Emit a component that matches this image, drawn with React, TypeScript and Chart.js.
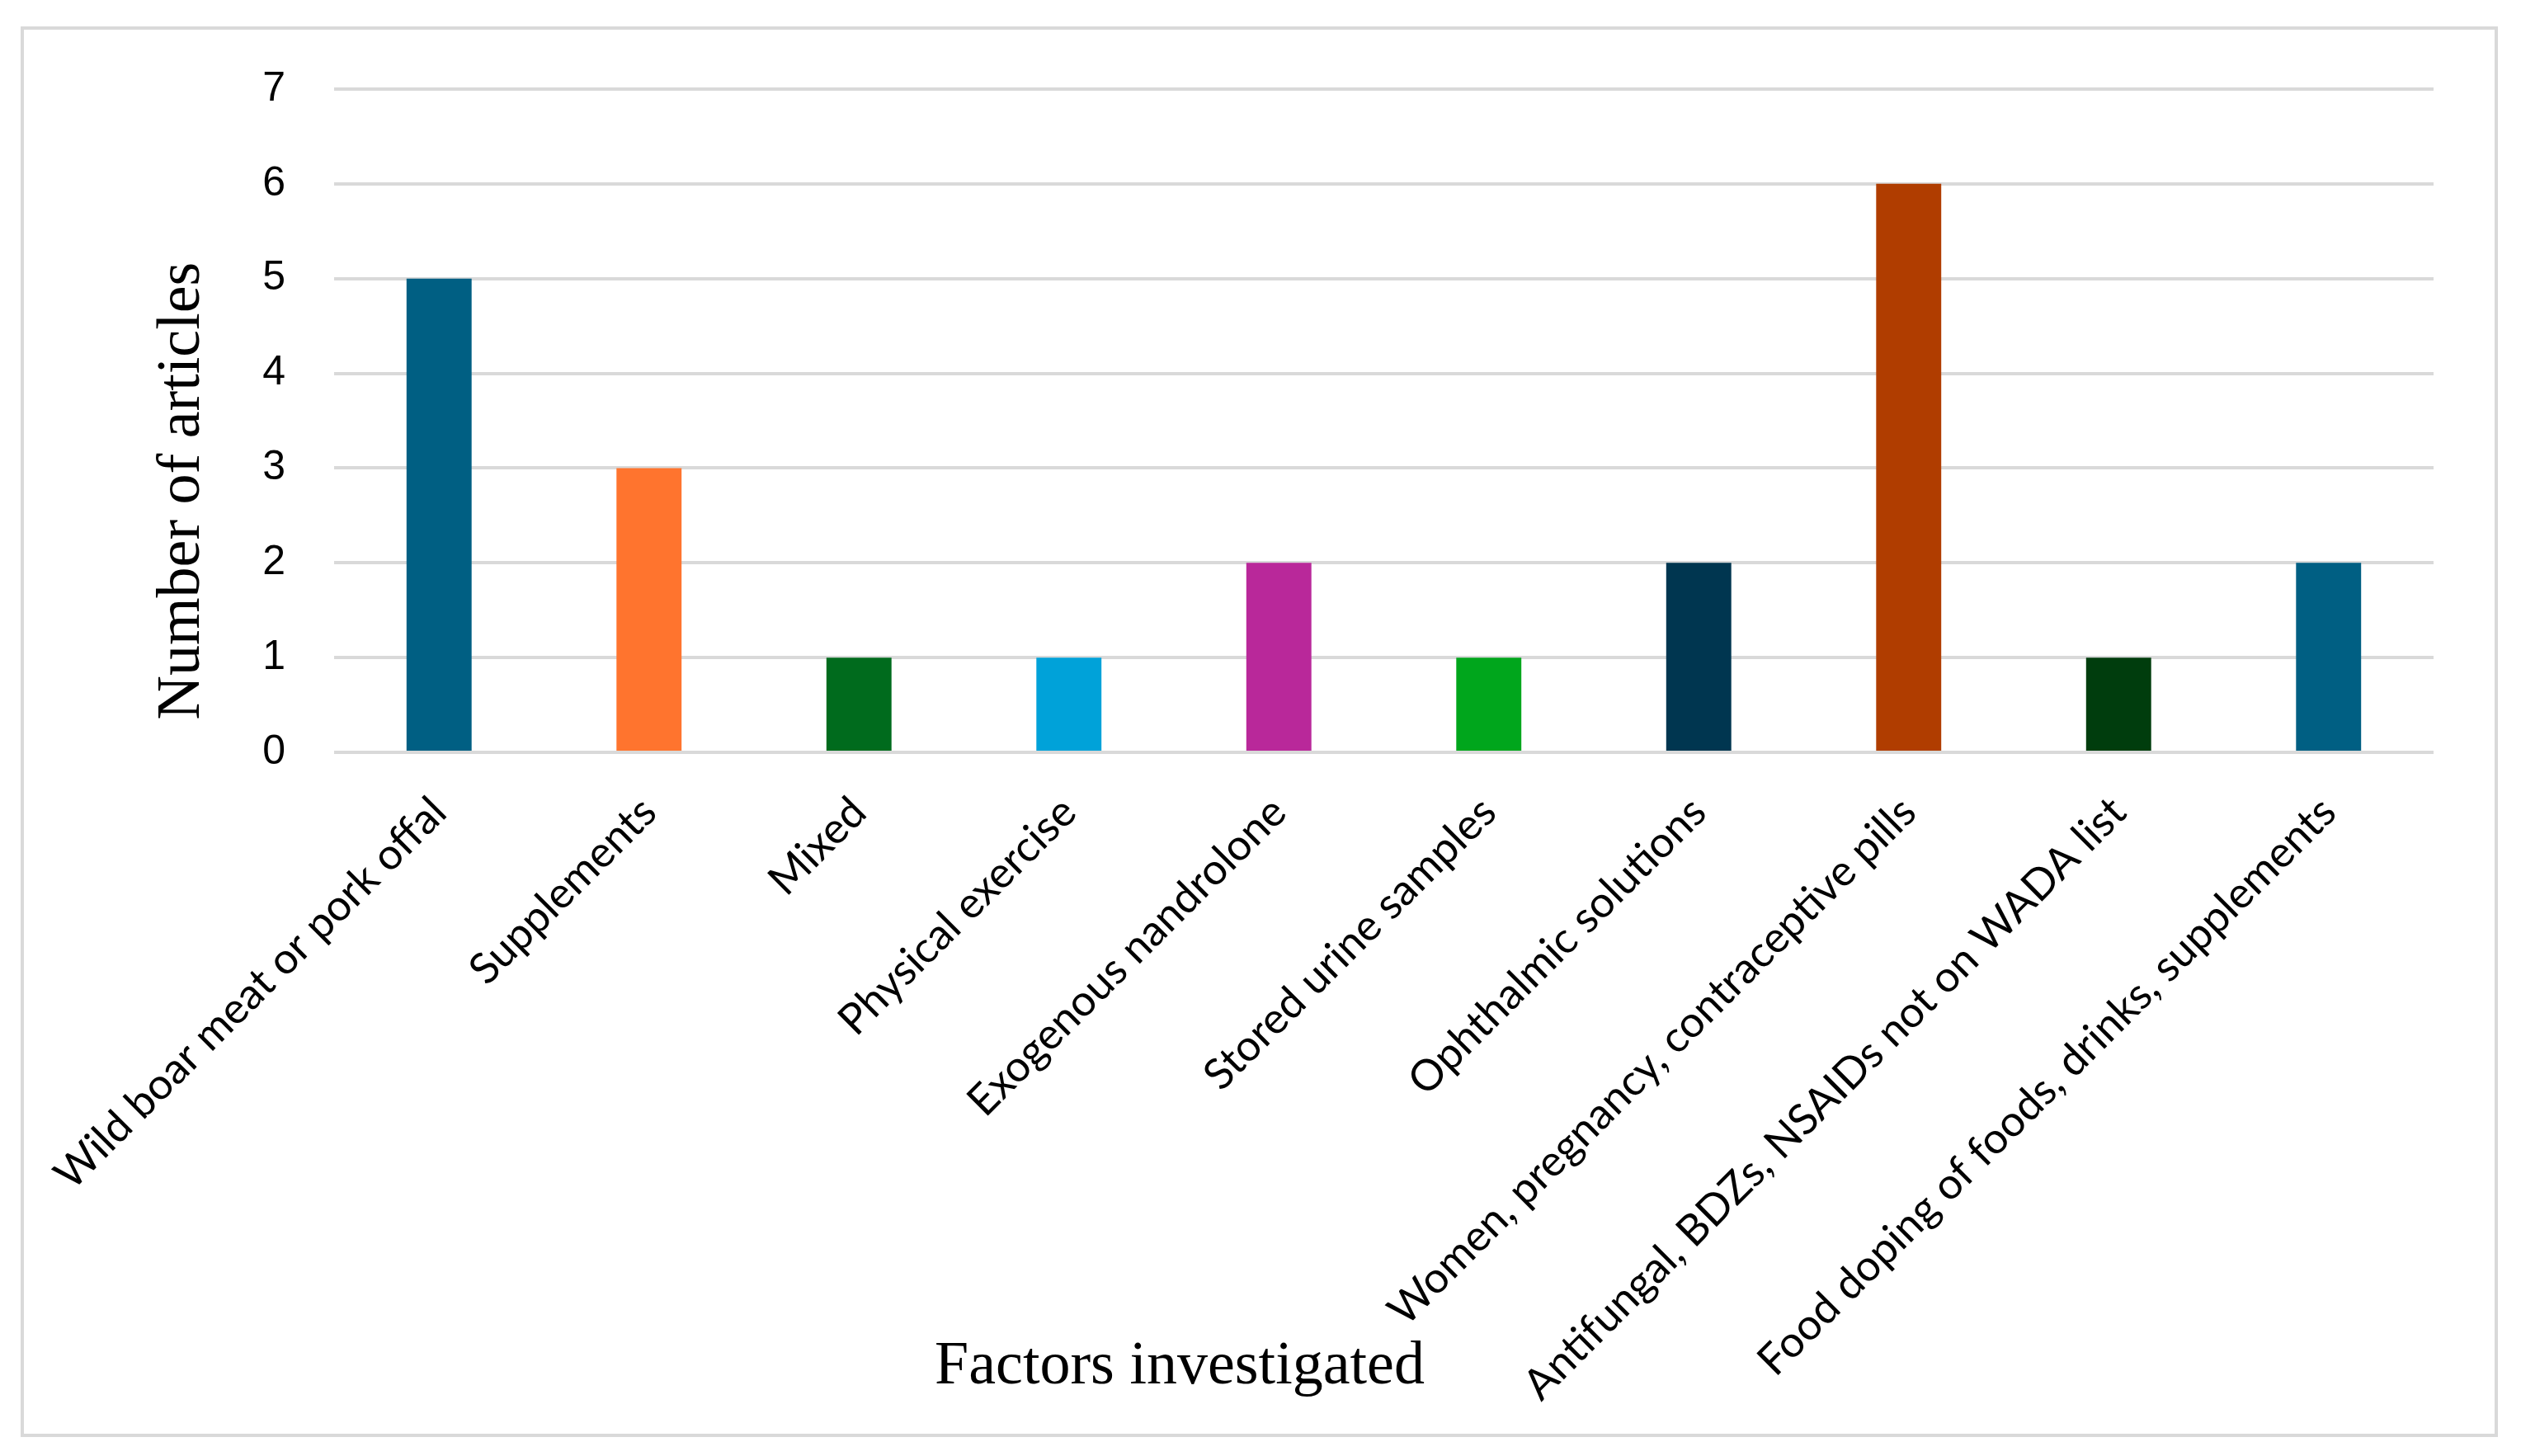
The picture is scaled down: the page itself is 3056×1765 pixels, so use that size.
import React, { useEffect, useRef } from "react";
import { Chart, registerables } from "chart.js";

Chart.register(...registerables);

const categories = [
  "Wild boar meat or pork offal",
  "Supplements",
  "Mixed",
  "Physical exercise",
  "Exogenous nandrolone",
  "Stored urine samples",
  "Ophthalmic solutions",
  "Women, pregnancy, contraceptive pills",
  "Antifungal, BDZs, NSAIDs not on WADA list",
  "Food doping of foods, drinks, supplements",
];

const articleCounts = [5, 3, 1, 1, 2, 1, 2, 6, 1, 2];

const barColors = [
  "#005F83",
  "#FF742E",
  "#006B1D",
  "#00A2D9",
  "#B9289A",
  "#00A61C",
  "#003650",
  "#B03D00",
  "#003D0D",
  "#005F83",
];

const yTicks = [0, 1, 2, 3, 4, 5, 6, 7];

const yTitle = "Number of articles";
const xTitle = "Factors investigated";

const W = 3056;
const H = 1765;

export default function App() {
  const ref = useRef<HTMLCanvasElement | null>(null);

  useEffect(() => {
    document.body.style.margin = "0";
    const canvas = ref.current;
    if (!canvas) return;

    const framePlugin = {
      id: "frameAndTitles",
      beforeDraw(chart: any) {
        const ctx = chart.ctx;
        ctx.save();
        ctx.fillStyle = "#ffffff";
        ctx.fillRect(0, 0, chart.width, chart.height);
        ctx.strokeStyle = "#d9d9d9";
        ctx.lineWidth = 4;
        ctx.strokeRect(27, 34, 2999, 1706);
        ctx.restore();
      },
      afterDraw(chart: any) {
        const ctx = chart.ctx;
        const area = chart.chartArea;
        ctx.save();
        ctx.fillStyle = "#000000";
        ctx.font = "74px 'Liberation Serif'";
        ctx.textAlign = "center";
        ctx.textBaseline = "alphabetic";
        ctx.fillText(xTitle, area.left + 1025, 1677);
        ctx.translate(area.left - 164, area.top + 487);
        ctx.rotate(-Math.PI / 2);
        ctx.fillText(yTitle, 0, 0);
        ctx.restore();
      },
    };

    const chart = new Chart(canvas, {
      type: "bar",
      data: {
        labels: categories,
        datasets: [
          {
            data: articleCounts,
            backgroundColor: barColors,
            borderWidth: 0,
            barPercentage: 0.31,
            categoryPercentage: 1,
          },
        ],
      },
      plugins: [framePlugin],
      options: {
        animation: false,
        responsive: true,
        maintainAspectRatio: false,
        devicePixelRatio: 1,
        layout: { padding: { left: 0, top: 108, right: 106, bottom: 0 } },
        plugins: {
          legend: { display: false },
          tooltip: { enabled: false },
          title: { display: false },
        },
        scales: {
          x: {
            grid: { display: false },
            border: { display: false },
            ticks: {
              autoSkip: false,
              maxRotation: 45,
              minRotation: 45,
              padding: 34,
              color: "#000000",
              font: { family: "Lato", size: 52 },
            },
            afterFit(scale: any) {
              scale.height = H - 912;
              scale.paddingLeft = 0;
              scale.paddingRight = 0;
            },
          },
          y: {
            min: 0,
            max: 7,
            afterBuildTicks(scale: any) {
              scale.ticks = yTicks.map((v) => ({ value: v }));
            },
            grid: {
              color: "#d9d9d9",
              lineWidth: 4,
              drawTicks: false,
            },
            border: { display: false },
            ticks: {
              padding: 59,
              color: "#000000",
              font: { family: "'Liberation Sans'", size: 50 },
            },
            afterFit(scale: any) {
              scale.width = 405;
            },
          },
        },
      },
    });

    return () => {
      chart.destroy();
    };
  }, []);

  return (
    <div style={{ position: "relative", width: W + "px", height: H + "px" }}>
      <canvas ref={ref} />
    </div>
  );
}
